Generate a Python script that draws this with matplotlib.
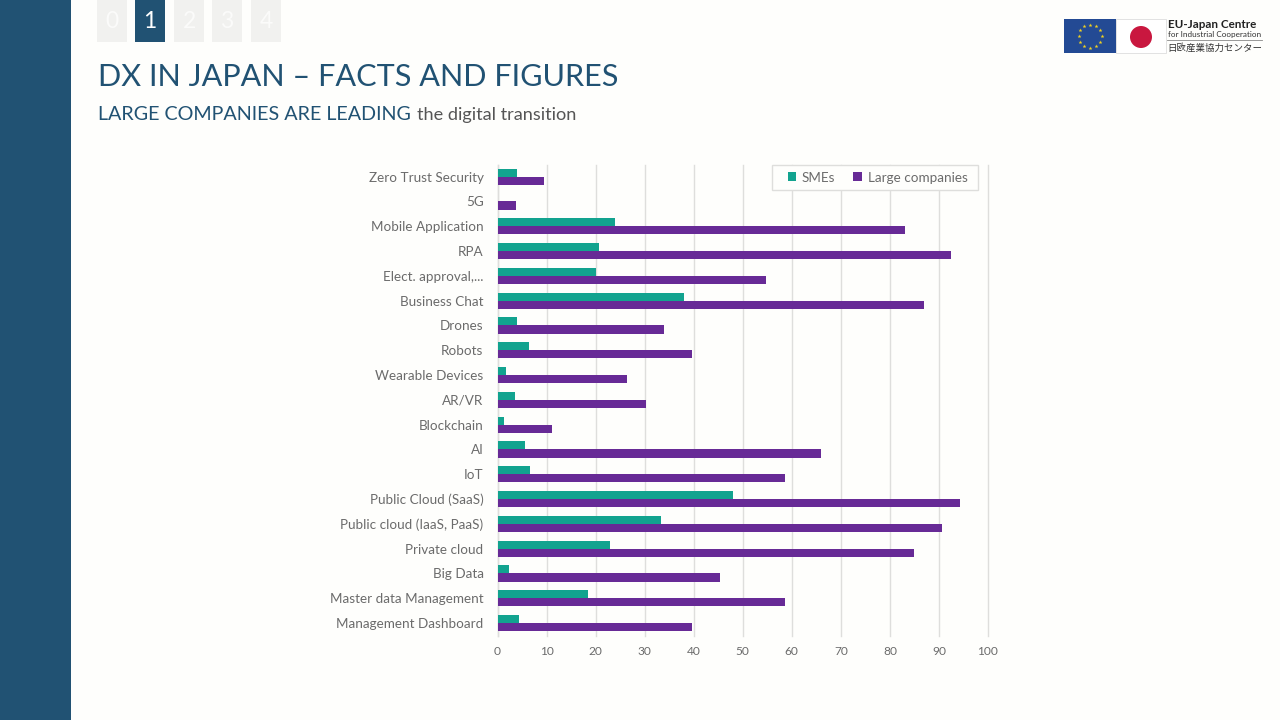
import numpy as np
import matplotlib
matplotlib.use("Agg")
import matplotlib.pyplot as plt
from matplotlib.patches import Rectangle, Circle

plt.rcParams['font.family'] = ['Lato', 'Noto Sans CJK JP', 'DejaVu Sans']

categories = ["Zero Trust Security", "5G", "Mobile Application", "RPA", "Elect. approval,...",
              "Business Chat", "Drones", "Robots", "Wearable Devices", "AR/VR", "Blockchain", "AI",
              "IoT", "Public Cloud (SaaS)", "Public cloud (IaaS, PaaS)", "Private cloud", "Big Data",
              "Master data Management", "Management Dashboard"]
smes = [3.9, 0, 24, 20.6, 20, 38, 3.9, 6.4, 1.7, 3.5, 1.3, 5.6, 6.7, 48, 33.3, 23, 2.4, 18.4, 4.3]
large = [9.4, 3.7, 83, 92.5, 54.8, 86.9, 34, 39.7, 26.3, 30.2, 11.2, 66, 58.6, 94.3, 90.6, 85, 45.4, 58.6, 39.7]
ticks = [0, 10, 20, 30, 40, 50, 60, 70, 80, 90, 100]
tabs = ["0", "1", "2", "3", "4"]

NAVY = "#215273"
GREY_TEXT = "#6b6b6b"

fig = plt.figure(figsize=(12.8, 7.2), dpi=100, facecolor="#fefefc")

# slide furniture in pixel coordinates
bg = fig.add_axes([0, 0, 1, 1])
bg.set_xlim(0, 1280)
bg.set_ylim(720, 0)
bg.axis("off")
bg.add_patch(Rectangle((0, 0), 71, 720, color=NAVY, lw=0))

tab_x = [97, 135, 174, 212, 251]
for i, label in enumerate(tabs):
    on = i == 1
    bg.add_patch(Rectangle((tab_x[i], 0), 30, 42, color=NAVY if on else "#f1f1ef", lw=0))
    bg.text(tab_x[i] + 15, 22, label, ha="center", va="center", fontsize=16.5,
            color="white" if on else "#fbfbfa")

bg.text(98, 76.5, "DX IN JAPAN \u2013 FACTS AND FIGURES", fontsize=22.1, color=NAVY,
        va="center", ha="left")
bg.text(98, 114, "LARGE COMPANIES ARE LEADING", fontsize=14.2, color=NAVY, va="center", ha="left")
bg.text(417, 115, "the digital transition", fontsize=13.1, color="#555555", va="center", ha="left")

# logo
bg.add_patch(Rectangle((1064, 19), 52, 34, color="#234a94", lw=0))
bg.add_patch(Rectangle((1116, 19), 50, 34, facecolor="white", edgecolor="#dddddd", lw=0.6))
bg.add_patch(Circle((1141, 37), 11, color="#c9173f", lw=0))
angles = np.arange(12) * np.pi / 6
bg.scatter(1090 + 11.5 * np.cos(angles), 36 + 11.5 * np.sin(angles), marker="*", s=9, color="#f2d21f", lw=0)
bg.text(1168, 24.5, "EU-Japan Centre", fontsize=8.4, fontweight="bold", color="#222222", va="center")
bg.text(1168, 34.5, "for Industrial Cooperation", fontsize=5.9, color="#333333", va="center")
bg.plot([1167, 1262], [40, 40], color="#888888", lw=0.6)
bg.text(1167, 48, "日欧産業協力センター", fontsize=6.8, color="#333333", va="center")

# chart
ax = fig.add_axes([497.5 / 1280, 1 - 636 / 720, 490.5 / 1280, 471 / 720])
ax.set_facecolor("none")
y = np.arange(len(categories))
bar_h = 0.325
ax.barh(y - bar_h / 2, smes, height=bar_h, color="#12a38f", label="SMEs", zorder=3)
ax.barh(y + bar_h / 2, large, height=bar_h, color="#672a96", label="Large companies", zorder=3)

ax.set_xlim(0, 100)
ax.set_ylim(len(categories) - 0.5 + 0.02, -0.47)
ax.set_xticks(ticks)
ax.set_yticks(y)
ax.set_yticklabels(categories)
ax.tick_params(axis="both", length=0, labelcolor=GREY_TEXT)
ax.tick_params(axis="y", labelsize=9.7, pad=10)
ax.tick_params(axis="x", labelsize=8.6, pad=7.5)
ax.grid(axis="x", color="#dededc", lw=1.0, zorder=0, clip_on=False)
for side in ["top", "right", "bottom"]:
    ax.spines[side].set_visible(False)
ax.spines["left"].set_color("#dededc")
ax.spines["left"].set_linewidth(1.0)

# legend box is wider than its content, so the frame is drawn separately
ax.add_patch(Rectangle((772, 165), 206, 25, transform=bg.transData, facecolor="#fefefc",
                       edgecolor="#dededc", lw=1.0, zorder=4, clip_on=False))
leg = ax.legend(loc="center", bbox_to_anchor=(877.5, 177.5), bbox_transform=bg.transData, ncol=2,
                frameon=False, fontsize=9.7, labelcolor=GREY_TEXT, handlelength=0.65, handleheight=0.65,
                handletextpad=0.4, columnspacing=1.35, borderaxespad=0, borderpad=0)
leg.set_zorder(5)

fig.savefig("out.png", dpi=100, facecolor=fig.get_facecolor())
